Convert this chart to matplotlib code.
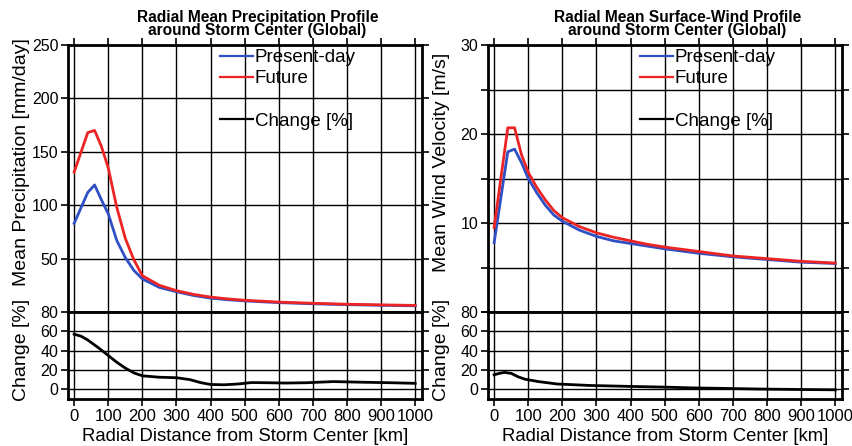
import matplotlib
matplotlib.use('Agg')

import matplotlib.pyplot as plt
import matplotlib.font_manager as fm
from matplotlib.lines import Line2D
from matplotlib.ticker import MultipleLocator

plt.rcParams['font.family'] = ['Liberation Sans', 'DejaVu Sans']

# il grassetto a volte viene preso dalla versione Narrow: cerco il file giusto
font_titolo = fm.FontProperties(family='Liberation Sans', weight='bold', size=11.2)
for f in fm.findSystemFonts():
    if f.endswith('LiberationSans-Bold.ttf'):
        font_titolo = fm.FontProperties(fname=f, size=11.2)
        break

# %% Dati

raggi = [0, 40, 60, 80, 100, 125, 150, 175, 200, 250, 300, 350, 400, 450, 500, 600, 700, 800, 900, 1000]

prec_presente = [83, 112, 119, 105, 92, 67, 51, 39, 31, 23, 19, 15.5, 13, 11.5, 10.4, 8.8, 7.7, 6.9, 6.3, 5.8]
prec_futuro = [131, 168, 170, 155, 135, 98, 69, 49, 34, 25, 20, 16.5, 14, 12.3, 11, 9.3, 8.2, 7.3, 6.7, 6.2]

raggi_var_prec = [0, 20, 40, 75, 100, 125, 150, 175, 200, 250, 300, 340, 370, 400, 440, 480, 520, 570, 620, 680, 760, 850, 930, 1000]
var_prec = [57, 55, 51, 42, 35, 28, 22, 17, 14, 12.5, 12, 10, 7, 5, 4.7, 5.5, 7, 6.8, 6.5, 6.8, 8, 7.3, 6.8, 6.2]

vento_presente = [7.8, 18.0, 18.3, 16.8, 15.0, 13.4, 12.0, 10.9, 10.2, 9.2, 8.5, 8.0, 7.7, 7.4, 7.1, 6.6, 6.2, 5.9, 5.6, 5.45]
vento_futuro = [9.5, 20.7, 20.7, 17.7, 15.7, 14.0, 12.6, 11.4, 10.6, 9.6, 8.9, 8.4, 8.0, 7.6, 7.3, 6.8, 6.3, 6.0, 5.7, 5.5]

raggi_var_vento = [0, 15, 30, 50, 70, 90, 130, 185, 280, 400, 500, 580, 700, 780, 900, 1000]
var_vento = [15, 16.5, 17.5, 16.5, 13, 10.5, 8, 5.5, 4, 3, 2.3, 1.5, 0.8, 0.3, -0.2, -0.5]

ticks_x = [0, 100, 200, 300, 400, 500, 600, 700, 800, 900, 1000]
ticks_var = [0, 20, 40, 60, 80]

titoli = ['Radial Mean Precipitation Profile\naround Storm Center (Global)',
          'Radial Mean Surface-Wind Profile\naround Storm Center (Global)']
etichette_y = ['Mean Precipitation [mm/day]', 'Mean Wind Velocity [m/s]']

col_presente = '#2f4fc4'
col_futuro = '#ec2424'

# %% Plot

fig = plt.figure(figsize=(8.53, 4.46), dpi=100)

larghezza = 354 / 853
lista_x0 = [68 / 853, 488 / 853]


def f_assi_comuni(ax):
    ax.set_xlim(-18, 1020)
    ax.set_xticks(ticks_x)
    ax.grid(True, which='both', color='black', lw=1.0)
    ax.set_axisbelow(True)
    for s in ax.spines.values():
        s.set_linewidth(2.0)
    ax.tick_params(which='both', direction='out', length=5, width=1.2,
                   labelsize=11.5, right=True, pad=2)
    ax.tick_params(axis='x', labelsize=12)


for i in range(2):
    ax_su = fig.add_axes([lista_x0[i], 0.3004, larghezza, 0.5987])
    ax_giu = fig.add_axes([lista_x0[i], 0.1054, larghezza, 0.1951], sharex=ax_su)
    f_assi_comuni(ax_su)
    f_assi_comuni(ax_giu)

    if i == 0:
        ax_su.plot(raggi, prec_presente, color=col_presente, lw=2)
        ax_su.plot(raggi, prec_futuro, color=col_futuro, lw=2)
        ax_su.set_ylim(0, 250)
        ax_su.set_yticks([50, 100, 150, 200, 250])
        ax_giu.plot(raggi_var_prec, var_prec, color='black', lw=2)
    else:
        ax_su.plot(raggi, vento_presente, color=col_presente, lw=2)
        ax_su.plot(raggi, vento_futuro, color=col_futuro, lw=2)
        ax_su.set_ylim(0, 30)
        ax_su.set_yticks([10, 20, 30])
        ax_su.yaxis.set_minor_locator(MultipleLocator(5))
        ax_giu.plot(raggi_var_vento, var_vento, color='black', lw=2)

    ax_su.tick_params(axis='x', top=True, bottom=False, labelbottom=False)
    ax_giu.tick_params(axis='x', top=False)
    ax_giu.set_ylim(-10, 80)
    ax_giu.set_yticks(ticks_var)

    ax_su.set_title(titoli[i], fontproperties=font_titolo, x=0.535, pad=7, linespacing=0.85)
    ax_su.set_ylabel(etichette_y[i], fontsize=14)
    ax_giu.set_ylabel('Change [%]', fontsize=14)
    ax_su.yaxis.set_label_coords(-0.107, 0.56)
    ax_giu.yaxis.set_label_coords(-0.107, 0.56)
    ax_giu.set_xlabel('Radial Distance from Storm Center [km]', fontsize=13.3, labelpad=3)

    # legenda con una riga vuota tra Future e Change
    maniglie = [Line2D([], [], color=col_presente, lw=1.6),
                Line2D([], [], color=col_futuro, lw=1.6),
                Line2D([], [], color='none'),
                Line2D([], [], color='black', lw=1.6)]
    nomi = ['Present-day', 'Future', '', 'Change [%]']
    ax_su.legend(maniglie, nomi, loc='upper left', bbox_to_anchor=(0.43, 0.985),
                 frameon=False, fontsize=13.5, handlelength=1.75, handletextpad=0.1,
                 labelspacing=0.22, borderpad=0.0, borderaxespad=0.0)

plt.savefig('out.png', dpi=100)
plt.close()
